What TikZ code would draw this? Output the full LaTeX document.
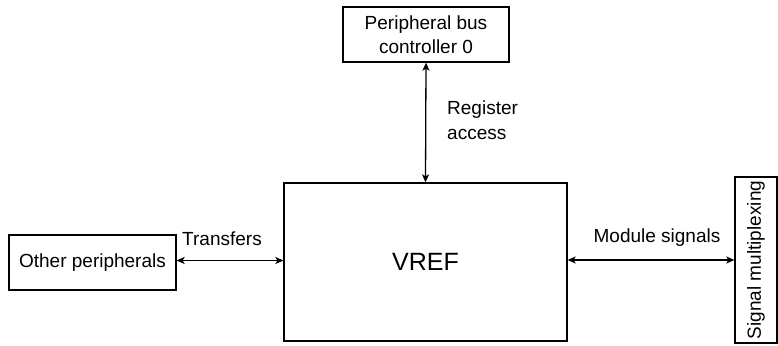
\documentclass[tikz,border=0pt]{standalone}
\usepackage{fontspec}
\setmainfont{Liberation Sans}
\usepackage{tikz}
\usetikzlibrary{arrows.meta,positioning,calc}

\begin{document}
\begin{tikzpicture}[x=1pt, y=-1pt,
  blk/.style={draw, rectangle, line width=1.3pt, inner sep=0pt,
    align=center, font=\fontsize{19}{24}\selectfont},
  lbl/.style={inner sep=0pt, font=\fontsize{19}{25}\selectfont},
  arr/.style={{Stealth[length=8pt,width=7pt,inset=2pt]}-{Stealth[length=8pt,width=7pt,inset=2pt]},
    line width=1.3pt}]
  \useasboundingbox (0,0) rectangle (778,345);
  % Blocks
  \node[blk, minimum width=166pt, minimum height=55pt] (pbc) at (426,34.5)
    {Peripheral bus\\controller 0};
  \node[blk, minimum width=283pt, minimum height=158pt,
    font=\fontsize{25}{30}\selectfont] (vref) at (425.5,262) {VREF};
  \node[blk, minimum width=167pt, minimum height=55pt] (other) at (92.5,262.5)
    {Other peripherals};
  \node[blk, minimum width=166pt, minimum height=42pt, rotate=90] (sigmux) at (756,260)
    {Signal multiplexing};
  % Connectors
  \draw[arr] (pbc.south) -- (vref.north);
  \draw[arr] ([yshift=2pt]other.east) -- ([yshift=2pt]other.east -| vref.west);
  \draw[arr] ([yshift=2pt]vref.east) -- ([yshift=2pt]vref.east -| sigmux.north);
  % Labels
  \node[lbl, anchor=west, align=left] (regacc) at (447,120) {Register\\access};
  \node[lbl] (xfer) at (222,239) {Transfers};
  \node[lbl] (modsig) at (657,238) {Module signals};
\end{tikzpicture}
\end{document}
